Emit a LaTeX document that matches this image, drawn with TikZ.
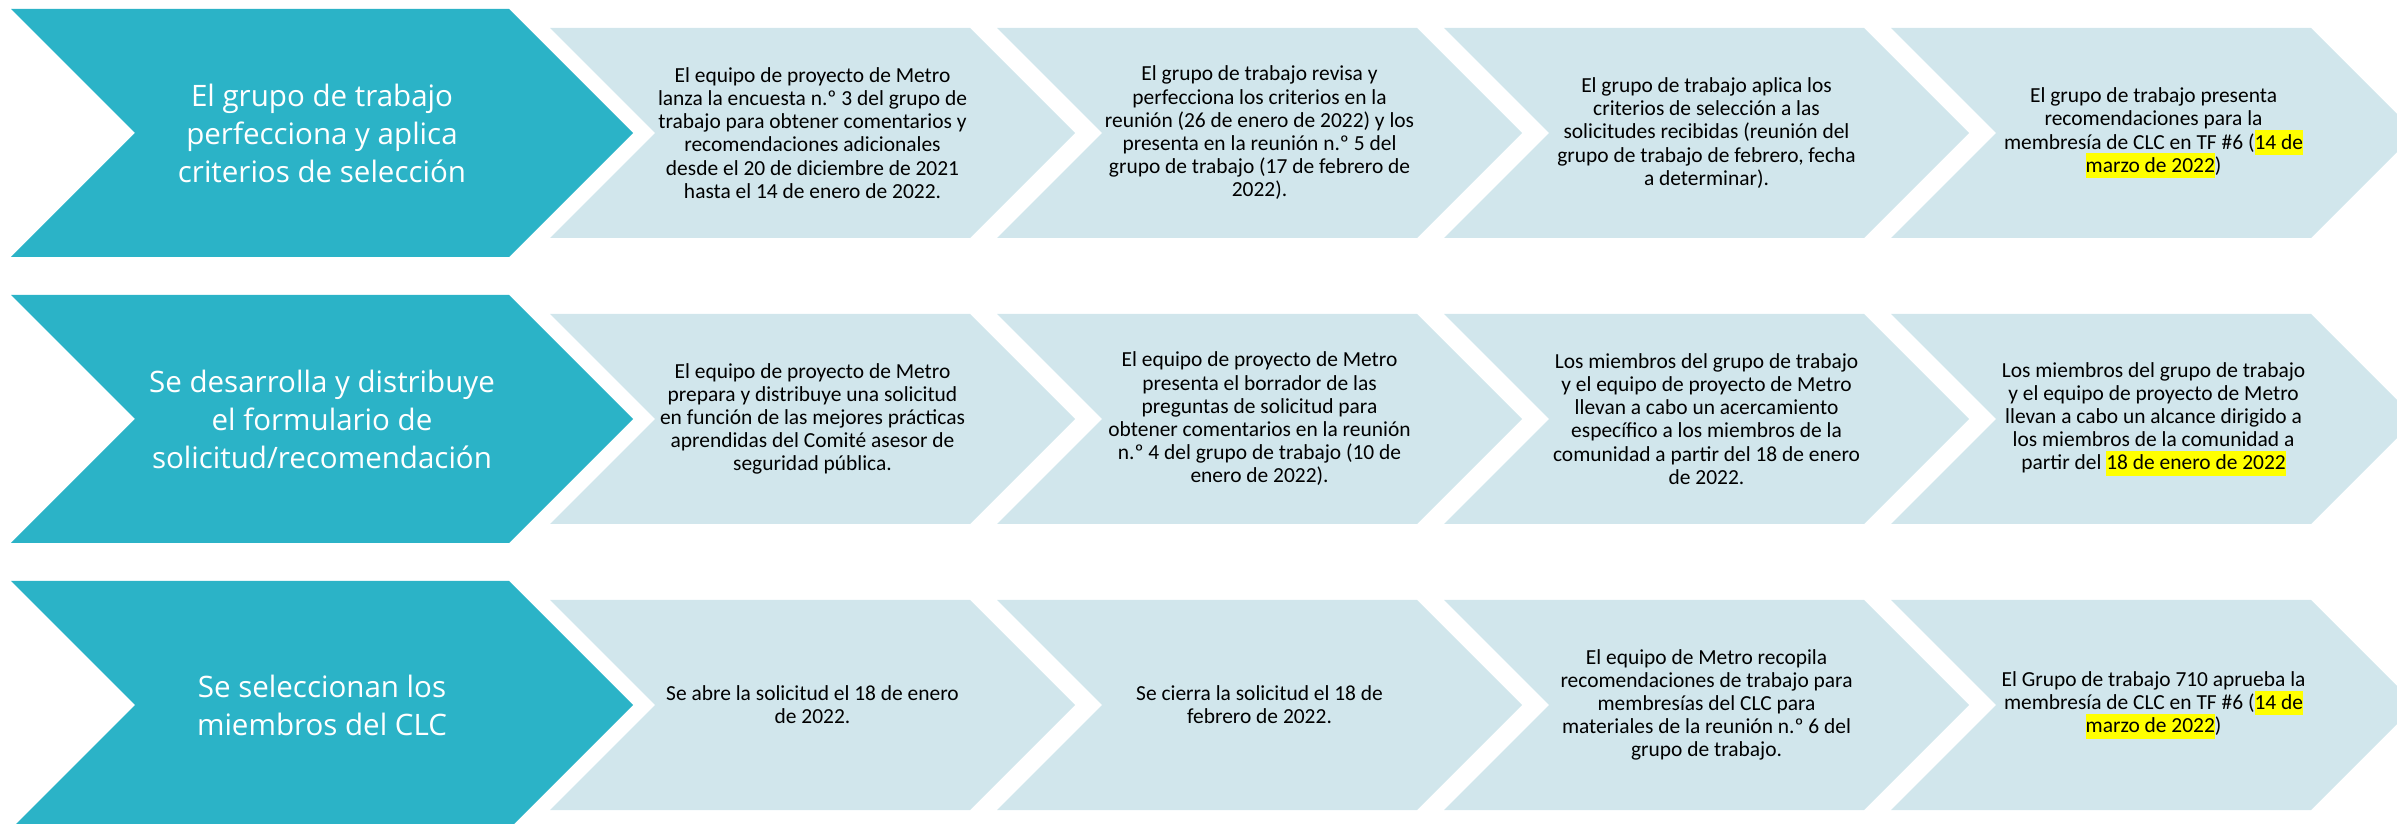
\documentclass[tikz,border=0pt]{standalone}
\usepackage{fontspec}
\usepackage{xcolor}
\usepackage{tikz}
\usetikzlibrary{positioning}
\setmainfont{Carlito}
\newfontfamily\headfont{Open Sans}

\definecolor{tealmain}{HTML}{2BB3C7}
\definecolor{paleblue}{HTML}{D1E6EC}
\definecolor{hlyellow}{HTML}{FFFF00}

% filled chevron: style, left x, centre y, top edge length, half height
\newcommand{\chevshape}[5]{\fill[#1] (#2,#3+#5) -- ++(#4,0) -- ++(#5,-#5) -- ++(-#5,-#5) -- ++(-#4,0) -- ++(#5,#5) -- cycle;}
\newcommand{\hlmark}[1]{{\setlength{\fboxsep}{0pt}\colorbox{hlyellow}{\rule[-0.28em]{0pt}{1.16em}#1}}}
\protected\def\tightlines{\lineskiplimit=-10pt\relax\lineskip=0pt\relax}

\tikzset{
  stagetext/.style={text=white, align=center, inner sep=0pt, font=\headfont\fontsize{8.4}{10.8}\selectfont},
  steptext/.style={text=black, align=center, inner sep=0pt, font=\fontsize{6.1}{6.6}\selectfont\tightlines}
}

\begin{document}
\begin{tikzpicture}
\useasboundingbox (0,0) rectangle (23.97,8.23);

% row 1
\chevshape{tealmain}{0.11}{6.90}{4.98}{1.24}
\chevshape{paleblue}{5.50}{6.90}{4.20}{1.05}
\chevshape{paleblue}{9.97}{6.90}{4.20}{1.05}
\chevshape{paleblue}{14.44}{6.90}{4.20}{1.05}
\chevshape{paleblue}{18.91}{6.90}{4.20}{1.05}
\node[stagetext] (crit) at (3.22,6.90) {El grupo de trabajo\\perfecciona y aplica\\criterios de selección};
\node[steptext] (crit1) at (8.125,6.90) {El equipo de proyecto de Metro\\lanza la encuesta n.º 3 del grupo de\\trabajo para obtener comentarios y\\recomendaciones adicionales\\desde el 20 de diciembre de 2021\\hasta el 14 de enero de 2022.};
\node[steptext] (crit2) at (12.595,6.90) {El grupo de trabajo revisa y\\perfecciona los criterios en la\\reunión (26 de enero de 2022) y los\\presenta en la reunión n.º 5 del\\grupo de trabajo (17 de febrero de\\2022).};
\node[steptext] (crit3) at (17.065,6.90) {El grupo de trabajo aplica los\\criterios de selección a las\\solicitudes recibidas (reunión del\\grupo de trabajo de febrero, fecha\\a determinar).};
\node[steptext] (crit4) at (21.535,6.90) {El grupo de trabajo presenta\\recomendaciones para la\\membresía de CLC en TF \#6 (\hlmark{14 de}\\\hlmark{marzo de 2022})};

% row 2
\chevshape{tealmain}{0.11}{4.04}{4.98}{1.24}
\chevshape{paleblue}{5.50}{4.04}{4.20}{1.05}
\chevshape{paleblue}{9.97}{4.04}{4.20}{1.05}
\chevshape{paleblue}{14.44}{4.04}{4.20}{1.05}
\chevshape{paleblue}{18.91}{4.04}{4.20}{1.05}
\node[stagetext] (form) at (3.22,4.04) {Se desarrolla y distribuye\\el formulario de\\solicitud/recomendación};
\node[steptext] (form1) at (8.125,4.04) {El equipo de proyecto de Metro\\prepara y distribuye una solicitud\\en función de las mejores prácticas\\aprendidas del Comité asesor de\\seguridad pública.};
\node[steptext] (form2) at (12.595,4.04) {El equipo de proyecto de Metro\\presenta el borrador de las\\preguntas de solicitud para\\obtener comentarios en la reunión\\n.º 4 del grupo de trabajo (10 de\\enero de 2022).};
\node[steptext] (form3) at (17.065,4.04) {Los miembros del grupo de trabajo\\y el equipo de proyecto de Metro\\llevan a cabo un acercamiento\\específico a los miembros de la\\comunidad a partir del 18 de enero\\de 2022.};
\node[steptext] (form4) at (21.535,4.04) {Los miembros del grupo de trabajo\\y el equipo de proyecto de Metro\\llevan a cabo un alcance dirigido a\\los miembros de la comunidad a\\partir del \hlmark{18 de enero de 2022}};

% row 3
\chevshape{tealmain}{0.11}{1.18}{4.98}{1.24}
\chevshape{paleblue}{5.50}{1.18}{4.20}{1.05}
\chevshape{paleblue}{9.97}{1.18}{4.20}{1.05}
\chevshape{paleblue}{14.44}{1.18}{4.20}{1.05}
\chevshape{paleblue}{18.91}{1.18}{4.20}{1.05}
\node[stagetext] (memb) at (3.22,1.18) {Se seleccionan los\\miembros del CLC};
\node[steptext] (memb1) at (8.125,1.18) {Se abre la solicitud el 18 de enero\\de 2022.};
\node[steptext] (memb2) at (12.595,1.18) {Se cierra la solicitud el 18 de\\febrero de 2022.};
\node[steptext] (memb3) at (17.065,1.18) {El equipo de Metro recopila\\recomendaciones de trabajo para\\membresías del CLC para\\materiales de la reunión n.º 6 del\\grupo de trabajo.};
\node[steptext] (memb4) at (21.535,1.18) {El Grupo de trabajo 710 aprueba la\\membresía de CLC en TF \#6 (\hlmark{14 de}\\\hlmark{marzo de 2022})};
\end{tikzpicture}
\end{document}
